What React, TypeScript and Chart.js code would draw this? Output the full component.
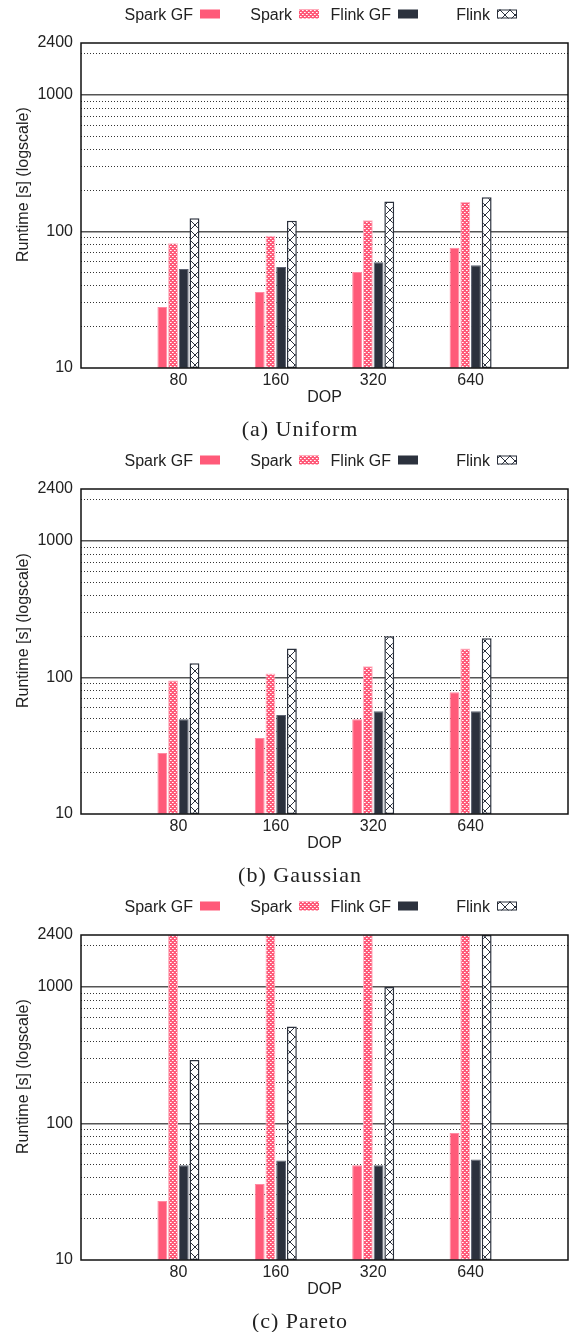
import React, { useEffect, useRef } from 'react';
import { Chart, registerables } from 'chart.js';

Chart.register(...registerables);

// ---------- data ----------
const dopLabels = ['', '80', '160', '320', '640', ''];
const seriesNames = ['Spark GF', 'Spark', 'Flink GF', 'Flink'];

const uniformSparkGF = [null, 28, 36, 50.5, 76, null];
const uniformSpark = [null, 82, 93, 121, 164, null];
const uniformFlinkGF = [null, 53, 55, 59.5, 56.5, null];
const uniformFlink = [null, 125, 120, 166, 178, null];

const gaussianSparkGF = [null, 28, 36, 49.5, 78, null];
const gaussianSpark = [null, 95, 107, 121, 163, null];
const gaussianFlinkGF = [null, 49.5, 53, 56.5, 56.5, null];
const gaussianFlink = [null, 127, 163, 200, 194, null];

const paretoSparkGF = [null, 27, 36, 49.5, 85, null];
const paretoSpark = [null, 2400, 2400, 2400, 2400, null];
const paretoFlinkGF = [null, 49.5, 53.5, 49.5, 54.5, null];
const paretoFlink = [null, 292, 512, 1000, 2400, null];

const yTickValues = [10, 100, 1000, 2400];
const yMajorGrid = [100, 1000];
const yMinorGrid = [20, 30, 40, 50, 60, 70, 80, 90, 200, 300, 400, 500, 600, 700, 800, 900, 2000];
const yMin = 10;
const yMax = 2400;

const captions = ['(a) Uniform', '(b) Gaussian', '(c) Pareto'];
const xTitle = 'DOP';
const yTitle = 'Runtime [s] (logscale)';

const panels = [
  { caption: captions[0], series: [uniformSparkGF, uniformSpark, uniformFlinkGF, uniformFlink] },
  { caption: captions[1], series: [gaussianSparkGF, gaussianSpark, gaussianFlinkGF, gaussianFlink] },
  { caption: captions[2], series: [paretoSparkGF, paretoSpark, paretoFlinkGF, paretoFlink] },
];

// ---------- styles ----------
const PINK = '#ff5a79';
const DARK = '#2b313d';
const TEXT = '#222222';
const SANS = "'Liberation Sans', Arial, Helvetica, sans-serif";

function makeSparkPattern(ctx: CanvasRenderingContext2D) {
  const c = document.createElement('canvas');
  c.width = 4;
  c.height = 4;
  const g = c.getContext('2d')!;
  g.fillStyle = PINK;
  g.fillRect(0, 0, 4, 4);
  g.fillStyle = '#ffffff';
  g.fillRect(0, 0, 1, 1);
  g.fillRect(2, 2, 1, 1);
  g.fillStyle = '#ffc4cf';
  g.fillRect(1, 0, 1, 1);
  g.fillRect(3, 2, 1, 1);
  return ctx.createPattern(c, 'repeat')!;
}

function makeFlinkPattern(ctx: CanvasRenderingContext2D) {
  const c = document.createElement('canvas');
  c.width = 10;
  c.height = 10;
  const g = c.getContext('2d')!;
  g.fillStyle = '#ffffff';
  g.fillRect(0, 0, 10, 10);
  g.strokeStyle = DARK;
  g.lineWidth = 1;
  g.beginPath();
  g.moveTo(0, 0);
  g.lineTo(10, 10);
  g.moveTo(10, 0);
  g.lineTo(0, 10);
  g.stroke();
  return ctx.createPattern(c, 'repeat')!;
}

const PANEL_H = 446;
const CANVAS_H = 440;

function Panel({ index }: { index: number }) {
  const ref = useRef<HTMLCanvasElement | null>(null);
  const panel = panels[index];

  useEffect(() => {
    const canvas = ref.current!;
    const ctx = canvas.getContext('2d')!;
    const sparkPat = makeSparkPattern(ctx);
    const flinkPat = makeFlinkPattern(ctx);

    const fills = [PINK, sparkPat, DARK, flinkPat];
    const borders = ['#ff8aa2', '#ffb3c2', '#5d6372', DARK];
    const borderWidths = [1, 1, 1, 1.5];

    const decor = {
      id: 'decor',
      afterDatasetsDraw(chart: any) {
        const { ctx: c, chartArea } = chart;
        c.save();
        c.strokeStyle = '#111111';
        c.lineWidth = 1.5;
        c.strokeRect(chartArea.left, chartArea.top, chartArea.right - chartArea.left, chartArea.bottom - chartArea.top);
        c.restore();
      },
      afterDraw(chart: any) {
        const { ctx: c, chartArea } = chart;
        c.save();
        c.fillStyle = TEXT;
        c.font = `16px ${SANS}`;
        // legend (text before sample, gnuplot style)
        const boxX = [200, 299, 398, 497];
        seriesNames.forEach((name, i) => {
          c.textAlign = 'right';
          c.textBaseline = 'alphabetic';
          c.fillStyle = TEXT;
          c.fillText(name, boxX[i] - 7, 19.5);
          c.fillStyle = fills[i];
          c.fillRect(boxX[i], 9.5, 20, 9);
          if (i === 3) {
            c.strokeStyle = DARK;
            c.lineWidth = 1;
            c.strokeRect(boxX[i] + 0.5, 10, 19, 8);
          }
        });
        // x title
        c.fillStyle = TEXT;
        c.textAlign = 'center';
        c.textBaseline = 'alphabetic';
        c.fillText(xTitle, (chartArea.left + chartArea.right) / 2, 401.5);
        // y title
        c.translate(27.5, chartArea.bottom - 106);
        c.rotate(-Math.PI / 2);
        c.textAlign = 'left';
        c.fillText(yTitle, 0, 0);
        c.restore();
      },
    };

    const chart = new Chart(canvas, {
      type: 'bar',
      data: {
        labels: dopLabels,
        datasets: seriesNames.map((name, i) => ({
          label: name,
          data: panel.series[i],
          backgroundColor: fills[i],
          borderColor: borders[i],
          borderWidth: borderWidths[i],
          borderSkipped: false,
          categoryPercentage: 0.44,
          barPercentage: 0.92,
        })),
      },
      options: {
        animation: false,
        responsive: false,
        layout: { padding: { top: 43, right: 4, left: 0, bottom: 0 } },
        plugins: { legend: { display: false }, tooltip: { enabled: false } },
        scales: {
          x: {
            type: 'category',
            offset: false,
            grid: { display: false, drawTicks: false },
            border: { display: false },
            ticks: {
              color: TEXT,
              font: { family: SANS, size: 16 },
              padding: 3,
              autoSkip: false,
              maxRotation: 0,
            },
            afterFit: (s: any) => {
              s.height = CANVAS_H - 368;
            },
          },
          y: {
            type: 'logarithmic',
            position: 'left',
            min: yMin,
            max: yMax,
            afterBuildTicks: (s: any) => {
              s.ticks = yTickValues.map((v) => ({ value: v }));
            },
            afterFit: (s: any) => {
              s.width = 81;
            },
            ticks: {
              color: TEXT,
              font: { family: SANS, size: 16 },
              padding: 8,
              autoSkip: false,
              callback: (v: any) => String(v),
            },
            grid: {
              drawTicks: false,
              lineWidth: 1.5,
              color: (c: any) => (c.tick && yMajorGrid.includes(c.tick.value) ? '#555555' : 'rgba(0,0,0,0)'),
            },
            border: { display: false },
          },
          y2: {
            type: 'logarithmic',
            position: 'left',
            min: yMin,
            max: yMax,
            afterBuildTicks: (s: any) => {
              s.ticks = yMinorGrid.map((v) => ({ value: v }));
            },
            afterFit: (s: any) => {
              s.width = 0;
            },
            ticks: { display: false },
            grid: { drawTicks: false, lineWidth: 1, color: '#333333' },
            border: { display: false, dash: [1, 2] },
          },
        },
      },
      plugins: [decor],
    } as any);

    return () => chart.destroy();
  }, [index]);

  return (
    <div style={{ position: 'absolute', left: 0, top: index * PANEL_H, width: 572, height: PANEL_H }}>
      <canvas ref={ref} width={572} height={CANVAS_H} style={{ display: 'block', width: 572, height: CANVAS_H }} />
      <div
        style={{
          position: 'absolute',
          left: 0,
          width: 600,
          top: 417.6,
          textAlign: 'center',
          fontFamily: "'Liberation Serif', 'DejaVu Serif', serif",
          fontSize: 22,
          lineHeight: '22px',
          letterSpacing: '1px',
          color: TEXT,
          whiteSpace: 'nowrap',
        }}
      >
        {panel.caption}
      </div>
    </div>
  );
}

export default function App() {
  return (
    <div style={{ position: 'absolute', left: 0, top: 0, width: 572, height: 1332, overflow: 'hidden', background: '#fff' }}>
      {panels.map((_, i) => (
        <Panel key={i} index={i} />
      ))}
    </div>
  );
}
